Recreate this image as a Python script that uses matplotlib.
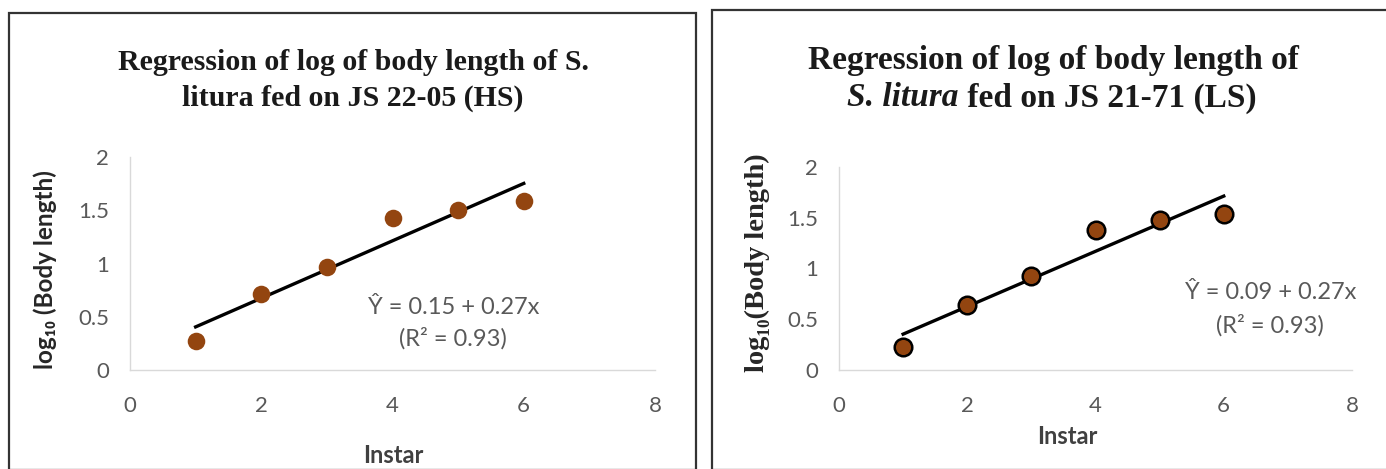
import numpy as np
import matplotlib
matplotlib.use("Agg")
import matplotlib.pyplot as plt
from matplotlib.patches import Rectangle

# data
instar = [1, 2, 3, 4, 5, 6]
log_len_hs = [0.27, 0.71, 0.97, 1.43, 1.50, 1.59]
log_len_ls = [0.23, 0.64, 0.93, 1.38, 1.48, 1.54]
x_ticks = [0, 2, 4, 6, 8]
y_ticks = [0, 0.5, 1, 1.5, 2]
y_tick_labels = ["0", "0.5", "1", "1.5", "2"]
eq_hs = ["Ŷ = 0.15 + 0.27x", "(R² = 0.93)"]
eq_ls = ["Ŷ = 0.09 + 0.27x", "(R² = 0.93)"]

W, H = 1386, 469
SANS = ["Lato", "DejaVu Sans"]
SERIF = ["Liberation Serif", "DejaVu Serif"]
BROWN = "#934510"
TICKC = "#595959"

fig = plt.figure(figsize=(W / 100, H / 100), dpi=100)


def fx(px):
    return px / W


def fy(py):
    return 1 - py / H


# panel frames
fig.patches.append(Rectangle((fx(9), fy(470)), fx(696 - 9), fy(13) - fy(470),
                             transform=fig.transFigure, fill=False,
                             edgecolor="#333333", linewidth=1.6))
fig.patches.append(Rectangle((fx(712), fy(470)), fx(1400 - 712), fy(10) - fy(470),
                             transform=fig.transFigure, fill=False,
                             edgecolor="#333333", linewidth=1.6))


def panel(rect, xs, ys, edge):
    ax = fig.add_axes(rect)
    ax.scatter(xs, ys, s=160, color=BROWN, edgecolors=edge,
               linewidths=1.8 if edge != BROWN else 0, zorder=3)
    b, a = np.polyfit(xs, ys, 1)
    xx = np.array([xs[0], xs[-1]])
    ax.plot(xx, a + b * xx, color="black", linewidth=2.4, zorder=2)
    ax.set_xlim(0, 8)
    ax.set_ylim(0, 2)
    ax.set_xticks(x_ticks)
    ax.set_yticks(y_ticks)
    ax.set_yticklabels(y_tick_labels)
    for s in ["top", "right"]:
        ax.spines[s].set_visible(False)
    for s in ["left", "bottom"]:
        ax.spines[s].set_color("#d9d9d9")
        ax.spines[s].set_linewidth(1.0)
    ax.tick_params(length=0, labelsize=16, labelcolor=TICKC)
    ax.tick_params(axis="x", pad=19)
    ax.tick_params(axis="y", pad=15)
    for lab in ax.get_xticklabels() + ax.get_yticklabels():
        lab.set_family(SANS)
    return ax


ax1 = panel([fx(130), fy(370), fx(655) - fx(130), fy(157) - fy(370)],
            instar, log_len_hs, BROWN)
ax2 = panel([fx(839), fy(370), fx(1352) - fx(839), fy(167) - fy(370)],
            instar, log_len_ls, "black")

# titles
fig.text(fx(353), fy(62), "Regression of log of body length of S.", ha="center", va="center",
         fontsize=21.5, fontweight="bold", family=SERIF, color="#1a1a1a")
fig.text(fx(353), fy(98), "litura fed on JS 22-05 (HS)", ha="center", va="center",
         fontsize=21.5, fontweight="bold", family=SERIF, color="#1a1a1a")
fig.text(fx(1053), fy(60), "Regression of log of body length of", ha="center", va="center",
         fontsize=24, fontweight="bold", family=SERIF, color="#1a1a1a")

t_it = fig.text(0, fy(98), "S. litura", ha="left", va="center", fontsize=24,
                fontweight="bold", fontstyle="italic", family=SERIF, color="#1a1a1a")
t_rest = fig.text(0, fy(98), " fed on JS 21-71 (LS)", ha="left", va="center", fontsize=24,
                  fontweight="bold", family=SERIF, color="#1a1a1a")
fig.canvas.draw()
r = fig.canvas.get_renderer()
w1 = t_it.get_window_extent(r).width
w2 = t_rest.get_window_extent(r).width
start = 1052 - (w1 + w2) / 2
t_it.set_x(fx(start))
t_rest.set_x(fx(start + w1))

# axis labels
fig.text(fx(45), fy(270), "log₁₀ (Body length)", rotation=90, ha="center", va="center",
         fontsize=17.5, fontweight="bold", family=SANS, color="#262626")
fig.text(fx(757), fy(263), "log₁₀(Body length)", rotation=90, ha="center", va="center",
         fontsize=20.5, fontweight="bold", family=SERIF, color="#262626")
fig.text(fx(393), fy(455), "Instar", ha="center", va="center",
         fontsize=17, fontweight="bold", family=SANS, color="#404040")
fig.text(fx(1067), fy(437), "Instar", ha="center", va="center",
         fontsize=17, fontweight="bold", family=SANS, color="#404040")

# regression equations
fig.text(fx(454), fy(307), eq_hs[0], ha="center", va="center", fontsize=17,
         family=SANS, color=TICKC)
fig.text(fx(453), fy(338), eq_hs[1], ha="center", va="center", fontsize=17,
         family=SANS, color=TICKC)
fig.text(fx(1271), fy(292), eq_ls[0], ha="center", va="center", fontsize=17,
         family=SANS, color=TICKC)
fig.text(fx(1270), fy(325), eq_ls[1], ha="center", va="center", fontsize=17,
         family=SANS, color=TICKC)

fig.savefig("out.png", dpi=100)
